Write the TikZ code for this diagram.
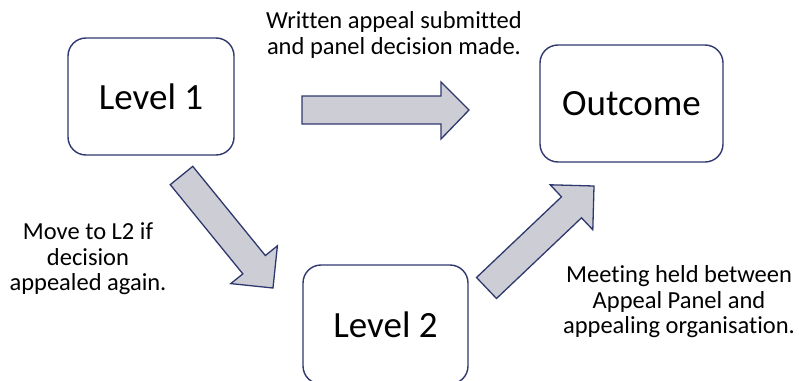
\documentclass[tikz,border=0pt]{standalone}
\usepackage{fontspec}
\setmainfont{Carlito}[Ligatures=NoCommon]
\definecolor{navy}{RGB}{47,56,110}
\definecolor{arrowfill}{RGB}{205,205,214}
\begin{document}
\begin{tikzpicture}[x=1pt,y=-1pt,
  box/.style={draw=navy, line width=1.4pt, rounded corners=18pt, fill=white,
    font=\fontsize{37}{44}\selectfont, inner sep=0pt},
  blockarrow/.style={draw=navy, line width=1.3pt, fill=arrowfill, line join=miter},
  note/.style={align=center, font=\fontsize{24.5}{25.5}\selectfont, inner sep=0pt}]
\useasboundingbox (0,0) rectangle (799,380);
\clip (0,0) rectangle (799,380);

% boxes
\node[box, minimum width=166pt, minimum height=117pt] (l1) at (151,96.5) {Level 1};
\node[box, minimum width=183pt, minimum height=117pt] (out) at (631.5,103.5) {Outcome};
\node[box, minimum width=165pt, minimum height=119pt] (l2) at (385.5,324.5) {Level 2};

% labels
\node[note] (t1) at (394,35) {Written appeal submitted\\and panel decision made.};
\node[note] (t2) at (88,259) {Move to L2 if\\decision\\appealed again.};
\node[note] (t3) at (679,302) {Meeting held between\\Appeal Panel and\\appealing organisation.};

% block arrows
\draw[blockarrow] (302,96) -- (441,96) -- (441,82) -- (469,110) -- (441,139)
  -- (441,124) -- (302,124) -- cycle;
\draw[blockarrow] (192.75,166.35) -- (265.35,255.55) -- (277.4,245.8) -- (273,288)
  -- (230.8,283.6) -- (242.85,273.85) -- (170.25,184.65) -- cycle;
\draw[blockarrow] (496.5,298.5) -- (581.5,217.8) -- (592.8,229.8) -- (594,186)
  -- (550.2,184.8) -- (561.5,196.8) -- (476.5,277.5) -- cycle;
\end{tikzpicture}
\end{document}
